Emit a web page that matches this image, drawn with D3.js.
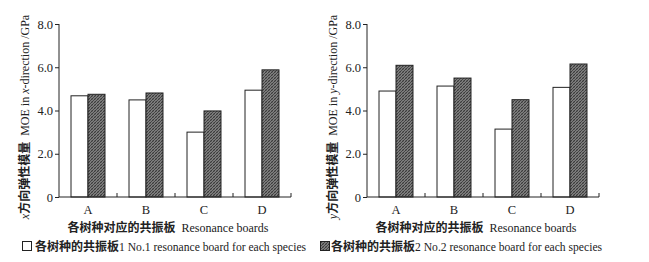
<!DOCTYPE html>
<html>
<head>
<meta charset="utf-8">
<script src="https://cdn.jsdelivr.net/npm/d3@7"></script>
<style>
  body { margin: 0; background: #fff; }
  svg text { font-family: "Liberation Serif", "Times New Roman", serif; fill: #222; white-space: pre; }
  .cjk { font-family: "Noto Sans CJK SC", sans-serif; font-weight: 600; }
</style>
</head>
<body>
<div id="chart"></div>
<script>
// data
const categories = ["A", "B", "C", "D"];
const seriesNames = ["No.1", "No.2"];
const moeX1 = [4.68, 4.49, 3.00, 4.94];
const moeX2 = [4.75, 4.81, 3.98, 5.88];
const moeY1 = [4.90, 5.13, 3.14, 5.07];
const moeY2 = [6.09, 5.50, 4.50, 6.15];
const yTicks = [0, 2, 4, 6, 8];
const yTickLabels = ["0", "2.0", "4.0", "6.0", "8.0"];

const W = 649, H = 262;
const svg = d3.select("#chart").append("svg")
    .attr("width", W)
    .attr("height", H);

// hatched fill for second board
const defs = svg.append("defs");
const pat = defs.append("pattern")
    .attr("id", "hatch")
    .attr("patternUnits", "userSpaceOnUse")
    .attr("width", 3)
    .attr("height", 3);
pat.append("rect").attr("width", 3).attr("height", 3).attr("fill", "#7e7e7e");
pat.append("path").attr("d", "M0,3 L3,0 M-1,1 L1,-1 M2,4 L4,2").attr("stroke", "#333").attr("stroke-width", 0.9);
pat.append("path").attr("d", "M0,0 L3,3").attr("stroke", "#555").attr("stroke-width", 0.5);

function drawPanel(x0, v1, v2, dirLetter) {
    let g = svg.append("g").attr("transform", "translate(" + x0 + ",0)");
    let plotW = 232, top = 24, bottom = 197;

    let x = d3.scaleBand().domain(categories).range([0, plotW])
        .paddingInner(0.414).paddingOuter(0.207);
    let xs = d3.scaleBand().domain(seriesNames).range([0, x.bandwidth()]);
    let y = d3.scaleLinear().domain([0, 8]).range([bottom, top]);

    let rows = categories.map((c, i) => ({cat: c, vals: [v1[i], v2[i]]}));

    let groups = g.selectAll(".grp").data(rows).enter().append("g")
        .attr("transform", d => "translate(" + x(d.cat) + ",0)");
    groups.selectAll("rect").data(d => d.vals.map((v, j) => ({s: seriesNames[j], v: v})))
        .enter().append("rect")
        .attr("x", d => xs(d.s))
        .attr("width", xs.bandwidth())
        .attr("y", d => y(d.v))
        .attr("height", d => y(0) - y(d.v))
        .attr("fill", d => d.s === "No.1" ? "#fff" : "url(#hatch)")
        .attr("stroke", "#222")
        .attr("stroke-width", 1);

    // y axis
    let yAxis = d3.axisLeft(y).tickValues(yTicks).tickSize(4)
        .tickFormat((d, i) => yTickLabels[i]);
    let ya = g.append("g").call(yAxis);
    ya.select(".domain").attr("d", "M0," + top + "V" + bottom).attr("stroke", "#222");
    ya.selectAll(".tick line").attr("stroke", "#222");
    ya.selectAll(".tick text").attr("font-size", 12.5)
        .attr("font-family", "Liberation Serif").attr("fill", "#333").attr("x", -6);

    // x axis line with boundary ticks
    g.append("line").attr("x1", 0).attr("x2", plotW).attr("y1", bottom).attr("y2", bottom)
        .attr("stroke", "#222");
    let bounds = d3.range(1, categories.length + 1).map(i => i * x.step());
    g.selectAll(".btick").data(bounds).enter().append("line")
        .attr("x1", d => d).attr("x2", d => d)
        .attr("y1", bottom).attr("y2", bottom - 4)
        .attr("stroke", "#222");

    g.selectAll(".clab").data(categories).enter().append("text")
        .attr("x", d => x(d) + x.bandwidth() / 2)
        .attr("y", 214)
        .attr("text-anchor", "middle")
        .attr("font-size", 12.5)
        .text(d => d);

    // x title
    let xt = g.append("text").attr("x", plotW / 2 - 7).attr("y", 232)
        .attr("text-anchor", "middle").attr("font-size", 12);
    xt.append("tspan").attr("class", "cjk").text("各树种对应的共振板");
    xt.append("tspan").text("  Resonance boards");

    // y title
    let yt = g.append("text")
        .attr("transform", "translate(" + (-30) + "," + 117 + ") rotate(-90)")
        .attr("text-anchor", "middle").attr("font-size", 12);
    yt.append("tspan").attr("font-style", "italic").text(dirLetter);
    yt.append("tspan").attr("class", "cjk").text("方向弹性模量");
    yt.append("tspan").text("  MOE in ");
    yt.append("tspan").attr("font-style", "italic").text(dirLetter);
    yt.append("tspan").text("-direction /GPa");
}

drawPanel(59, moeX1, moeX2, "x");
drawPanel(367, moeY1, moeY2, "y");

// legend
const legendItems = [
    {x: 22, fill: "#fff", cn: "各树种的共振板", en: "1 No.1 resonance board for each species"},
    {x: 320, fill: "url(#hatch)", cn: "各树种的共振板", en: "2 No.2 resonance board for each species"}
];
const lg = svg.selectAll(".leg").data(legendItems).enter().append("g")
    .attr("transform", d => "translate(" + d.x + ",241)");
lg.append("rect").attr("x", 0.5).attr("y", 0.5).attr("width", 9).attr("height", 9)
    .attr("fill", d => d.fill).attr("stroke", "#222");
const lt = lg.append("text").attr("x", d => d.x === 22 ? 13 : 11).attr("y", 10).attr("font-size", 12);
lt.append("tspan").attr("class", "cjk").text(d => d.cn);
lt.append("tspan").attr("font-size", 11.6).text(d => d.en);
</script>
</body>
</html>
